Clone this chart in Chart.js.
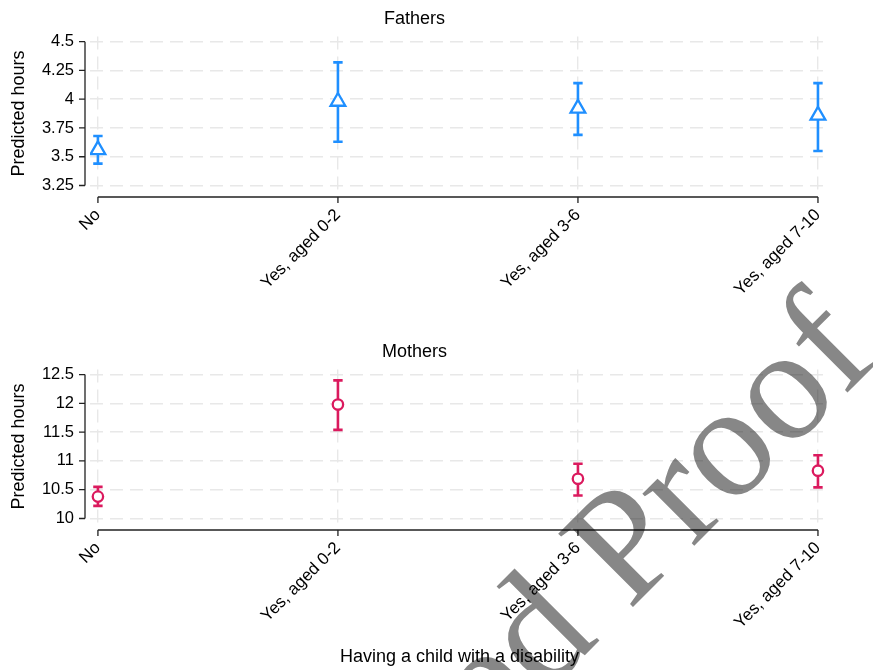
<!DOCTYPE html>
<html lang="en">
<head>
<meta charset="UTF-8">
<title>Predicted hours by child disability</title>
<script src="https://cdn.jsdelivr.net/npm/chart.js@4"></script>
<style>
  body { margin: 0; background: #fff; }
  #wrap { position: relative; width: 873px; height: 670px; overflow: hidden; background: #fff; }
  canvas { position: absolute; left: 0; }
  #fathers { top: 0; }
  #mothers { top: 333px; }
  #stamp { top: 0; mix-blend-mode: multiply; pointer-events: none; }
</style>
</head>
<body>
<div id="wrap">
  <canvas id="fathers" width="873" height="333"></canvas>
  <canvas id="mothers" width="873" height="337"></canvas>
  <canvas id="stamp" width="873" height="670"></canvas>
</div>
<script>
var categories = ['No', 'Yes, aged 0-2', 'Yes, aged 3-6', 'Yes, aged 7-10'];

var fathersEst  = [3.56, 3.98, 3.92, 3.86];
var fathersLow  = [3.44, 3.63, 3.69, 3.55];
var fathersHigh = [3.68, 4.32, 4.14, 4.14];
var fathersTicks = [3.25, 3.5, 3.75, 4, 4.25, 4.5];
var fathersRange = [3.15, 4.544];

var mothersEst  = [10.38, 11.98, 10.69, 10.83];
var mothersLow  = [10.22, 11.54, 10.40, 10.54];
var mothersHigh = [10.55, 12.40, 10.95, 11.10];
var mothersTicks = [10, 10.5, 11, 11.5, 12, 12.5];
var mothersRange = [9.8, 12.587];

var FONT = '"Liberation Sans", Arial, Helvetica, sans-serif';
Chart.defaults.font.family = FONT;
Chart.defaults.color = '#000';

// watermark, multiplied over the charts
var sctx = document.getElementById('stamp').getContext('2d');
sctx.font = '160px "Liberation Serif", "Times New Roman", serif';
sctx.fillStyle = '#878787';
sctx.translate(629, 611);
sctx.rotate(-Math.PI / 4);
sctx.fillText('Uncorrected Proof', -sctx.measureText('Uncorrected ').width, 0);

// Stata-like axes: y line only over the tick range, x line only over the categories,
// y title centred on the y line
var axisLines = {
  id: 'axisLines',
  beforeDatasetsDraw: function(chart, args, opts) {
    var ctx = chart.ctx, xs = chart.scales.x, ys = chart.scales.y, a = chart.chartArea;
    var t = opts.ticks;
    var ax = a.left - 5;
    var yTop = ys.getPixelForValue(t[t.length - 1]), yBot = ys.getPixelForValue(t[0]);
    ctx.save();
    ctx.strokeStyle = '#222';
    ctx.lineWidth = 1.3;
    ctx.beginPath();
    ctx.moveTo(ax, yTop);
    ctx.lineTo(ax, yBot);
    t.forEach(function(v) {
      var p = ys.getPixelForValue(v);
      ctx.moveTo(ax - 6, p); ctx.lineTo(ax, p);
    });
    ctx.moveTo(xs.getPixelForValue(0), a.bottom);
    ctx.lineTo(xs.getPixelForValue(categories.length - 1), a.bottom);
    categories.forEach(function(c, i) {
      var p = xs.getPixelForValue(i);
      ctx.moveTo(p, a.bottom); ctx.lineTo(p, a.bottom + 6);
    });
    ctx.stroke();

    ctx.translate(ys.left + 19, (yTop + yBot) / 2);
    ctx.rotate(-Math.PI / 2);
    ctx.font = '18px ' + FONT;
    ctx.fillStyle = '#000';
    ctx.textAlign = 'center';
    ctx.textBaseline = 'middle';
    ctx.fillText(opts.yTitle, 0, 0);
    ctx.restore();
  }
};

function makeChart(id, title, est, low, high, ticks, range, color, marker, xTitle) {
  var stems = [];
  for (var i = 0; i < est.length; i++) {
    stems.push({x: i, y: low[i]}, {x: i, y: high[i]}, {x: i, y: null});
  }
  var caps = low.map(function(v, i) { return {x: i, y: v}; })
    .concat(high.map(function(v, i) { return {x: i, y: v}; }));

  return new Chart(document.getElementById(id), {
    type: 'scatter',
    data: {
      datasets: [
        {
          data: est.map(function(v, i) { return {x: i, y: v}; }),
          pointStyle: marker,
          pointRadius: marker === 'triangle' ? 8.5 : 5.2,
          pointBorderColor: color,
          pointBackgroundColor: '#fff',
          pointBorderWidth: 2.3,
          order: 0
        },
        {
          data: caps,
          pointStyle: 'line',
          pointRadius: 4.7,
          pointBorderColor: color,
          pointBorderWidth: 2.6,
          order: 1
        },
        {
          data: stems,
          showLine: true,
          spanGaps: false,
          pointRadius: 0,
          borderColor: color,
          borderWidth: 2.6,
          order: 2
        }
      ]
    },
    options: {
      responsive: false,
      animation: false,
      layout: { padding: { left: 0, right: 44, top: 0, bottom: 0 } },
      plugins: {
        legend: { display: false },
        tooltip: { enabled: false },
        title: {
          display: true,
          text: title,
          font: { size: 18, weight: 'normal' },
          padding: { top: 8, bottom: 7 }
        },
        axisLines: { ticks: ticks, yTitle: 'Predicted hours' }
      },
      scales: {
        x: {
          type: 'linear',
          min: -0.033,
          max: 3.046,
          afterBuildTicks: function(s) { s.ticks = categories.map(function(c, i) { return {value: i}; }); },
          afterFit: function(s) { s.height = xTitle ? 140 : 136; },
          grid: { color: '#e8e8e8', lineWidth: 1.4, drawTicks: false },
          border: { display: false, dash: [13, 7] },
          ticks: {
            minRotation: 45, maxRotation: 45, autoSkip: false, padding: 8,
            font: { size: 17 },
            callback: function(v) { return categories[v]; }
          },
          title: {
            display: !!xTitle,
            text: xTitle || '',
            font: { size: 18 },
            padding: { top: 0, bottom: 2 }
          }
        },
        y: {
          min: range[0],
          max: range[1],
          afterBuildTicks: function(s) { s.ticks = ticks.map(function(v) { return {value: v}; }); },
          afterFit: function(s) { s.width = 90; },
          grid: { color: '#e8e8e8', lineWidth: 1.4, drawTicks: false },
          border: { display: false, dash: [13, 7] },
          ticks: {
            padding: 16,
            font: { size: 16.5 },
            callback: function(v) { return String(v); }
          }
        }
      }
    },
    plugins: [axisLines]
  });
}

makeChart('fathers', 'Fathers', fathersEst, fathersLow, fathersHigh, fathersTicks, fathersRange,
  '#1f8fff', 'triangle', null);
makeChart('mothers', 'Mothers', mothersEst, mothersLow, mothersHigh, mothersTicks, mothersRange,
  '#db1a5e', 'circle', 'Having a child with a disability');
</script>
</body>
</html>
